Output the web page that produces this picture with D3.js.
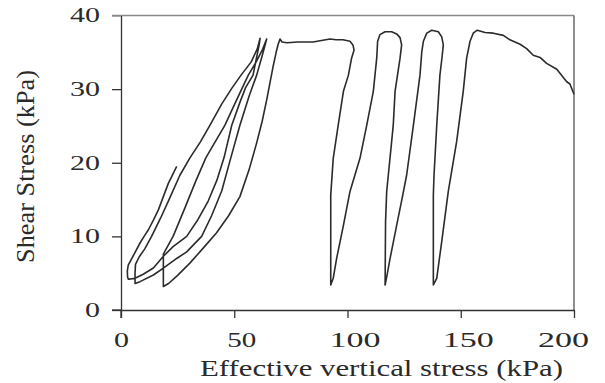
<!DOCTYPE html>
<html lang="en">
<head>
<meta charset="utf-8">
<title>Stress path</title>
<script src="https://cdn.jsdelivr.net/npm/d3@7"></script>
<style>
  body { margin: 0; background: #fff; }
  text { font-family: "Liberation Serif", "Times New Roman", serif; fill: #2a2a2a; }
</style>
</head>
<body>
<script>

var w = 605;
var h = 383;

// axis ticks
var xTicks = [0, 50, 100, 150, 200];
var yTicks = [0, 10, 20, 30, 40];

var stressX = [
  24.6, 22.8, 20.9, 18.7, 16.5, 14.3, 12.1, 10.2, 8.4, 5.8, 3.2, 2.8, 2.9, 3.2, 4.0,
  6.2, 9.8, 14.3, 18.7, 23, 29, 34, 38.5, 42.3, 45.5, 48.9, 52.5, 55, 58.3, 59.8, 61.0, 61.4,
  60.2, 57.5, 53, 48.9, 44.5, 39.3, 35, 30.5, 26, 21.5, 17.5, 13.5, 10.5, 8, 6.4, 6.2, 6.2,
  8.4, 14.3, 18.7, 24.6, 29, 35.6, 40, 44.5, 48.5, 52.5, 56.5, 59.9, 62.3, 63.8, 64.3,
  62.5, 59.5, 56.2, 51, 45.9, 41.5, 37.5, 33, 28, 23, 20.5, 18.7, 18.7, 18.7,
  21, 25, 30.5, 36, 42.2, 47.5, 52.5, 56.5, 59.9, 62.3, 64.3, 67.1, 68.5, 69.3, 70.2, 71.1,
  73.3, 78, 84.8, 88.5, 92.3, 95, 98, 101.1, 102.4, 102.9, 102.2, 101.8, 100.4, 98.2, 95.9, 93.7, 92.6, 92.6,
  93.7, 95.2, 98.2, 101.1, 105.5, 108.5, 111.4, 112.9, 113.3, 114.3, 116.6, 119.5, 121.7, 123.2, 123.9,
  123.2, 121, 120.2, 119.5, 117.3, 116.8, 116.6,
  117.2, 118.8, 121.7, 124, 126.1, 129.1, 132, 132.8, 133.5, 135, 137.2, 140.1, 141.6, 142.3,
  141.8, 140.8, 139.4, 138.2, 137.9, 137.9,
  139.4, 141.6, 144.5, 148.2, 151.1, 152.6, 154.1, 155.5, 157.3, 160.7, 164.4, 168.8, 171.7,
  176.2, 179.1, 182, 185, 187.9, 192.4, 196.8, 198.2, 200
];

// shear stress (kPa) at the same points
var shearY = [
  19.5, 18.4, 17.2, 15.4, 13.6, 12.2, 10.9, 10.0, 9.1, 7.6, 6.1, 5.3, 4.5, 4.2, 4.2,
  4.3, 4.85, 5.7, 7.3, 8.6, 10, 12.3, 14.8, 17.6, 20.7, 25.1, 28.2, 30.2, 31.9, 34.2, 36.0, 36.9,
  35.5, 33.7, 31.9, 30.1, 28, 25.1, 22.8, 20.7, 18.3, 15.2, 12.5, 10, 8.3, 7.2, 6.2, 5.0, 3.6,
  3.85, 4.75, 5.7, 7, 7.9, 10, 12.8, 16.2, 20.7, 25.1, 29, 31.9, 34.5, 36.2, 36.8,
  35.4, 33.6, 31.9, 28.5, 25.1, 22.8, 20.7, 17.5, 13.7, 10, 8.6, 7.6, 5.5, 3.2,
  3.6, 4.7, 6.4, 8.3, 10.5, 12.8, 15.4, 19, 22.7, 25.6, 28.5, 33, 35, 36, 36.8, 36.4,
  36.3, 36.4, 36.4, 36.6, 36.8, 36.7, 36.7, 36.5, 36, 35.3, 34.6, 34.2, 31.9, 29.7, 25.1, 20.6, 15.6, 3.4,
  4.3, 7, 11.5, 16.1, 20.6, 25.1, 29.7, 34.2, 36.5, 37.4, 37.8, 37.8, 37.5, 37, 36,
  34.2, 29.7, 25.1, 22.9, 16.1, 12, 3.4,
  4.3, 7, 11.5, 15, 18.3, 25.1, 31.9, 35.1, 36.5, 37.6, 38, 37.8, 37.1, 36,
  34.5, 31.9, 25.1, 18.3, 15.6, 3.4,
  4.3, 9.3, 16.1, 22.9, 29.7, 34.2, 36.5, 37.6, 38, 37.7, 37.6, 37.3, 36.7,
  36.1, 35.5, 34.6, 34.3, 33.5, 32.7, 31, 30.7, 29.3
];

var xTitle = "Effective vertical stress (kPa)";
var yTitle = "Shear Stress (kPa)";

var svg = d3.select("body").append("svg").attr("width", w).attr("height", h);

var x = d3.scaleLinear().domain([0, 200]).range([121, 574]);
var y = d3.scaleLinear().domain([0, 40]).range([310, 15.5]);

// top and right frame lines
svg.append("line")
  .attr("x1", x(0) - 9).attr("x2", x(200))
  .attr("y1", y(40)).attr("y2", y(40))
  .attr("stroke", "#8a8a8a").attr("stroke-width", 1.3);
svg.append("line")
  .attr("x1", x(200)).attr("x2", x(200))
  .attr("y1", y(40)).attr("y2", y(0))
  .attr("stroke", "#444").attr("stroke-width", 1.2);

// y axis
var gy = svg.append("g")
  .attr("transform", "translate(" + x(0) + ",0)")
  .call(d3.axisLeft(y).tickValues(yTicks).tickSize(9).tickSizeOuter(0).tickPadding(12));
gy.select(".domain").attr("stroke", "#333").attr("stroke-width", 1.3);
gy.selectAll(".tick line").attr("stroke", function(d){ return d == 40 ? "#8a8a8a" : "#333"; })
  .attr("stroke-width", 1.3);
gy.selectAll(".tick text")
  .style("font-size", "20px")
  .attr("fill", null)
  .attr("textLength", function(d){ return String(d).length * 15; })
  .attr("lengthAdjust", "spacingAndGlyphs");

// x axis
var gx = svg.append("g")
  .attr("transform", "translate(0," + y(0) + ")")
  .call(d3.axisBottom(x).tickValues(xTicks).tickSize(8).tickSizeOuter(0));
gx.select(".domain").attr("stroke", "#333").attr("stroke-width", 1.3);
gx.selectAll(".tick line").attr("stroke", "#333").attr("stroke-width", 1.3);
gx.selectAll(".tick text")
  .style("font-size", "22px")
  .attr("fill", null)
  .attr("y", 36.7).attr("dy", null)
  .attr("dx", function(d){ return d == 0 ? 0 : (d == 200 ? -11 : 7); })
  .attr("textLength", function(d){ var n = String(d).length; return n == 1 ? 15 : (n == 2 ? 29 : 51); })
  .attr("lengthAdjust", "spacingAndGlyphs");

// left axis runs down past the x axis to the 0 tick
svg.append("line")
  .attr("x1", x(0)).attr("x2", x(0))
  .attr("y1", y(0)).attr("y2", y(0) + 8)
  .attr("stroke", "#333").attr("stroke-width", 1.3);
svg.append("line")
  .attr("x1", x(0) - 9).attr("x2", x(0))
  .attr("y1", y(0)).attr("y2", y(0))
  .attr("stroke", "#333").attr("stroke-width", 1.3);

// titles
svg.append("text")
  .attr("x", 381.5).attr("y", 376)
  .attr("text-anchor", "middle")
  .style("font-size", "22.5px")
  .attr("textLength", 363).attr("lengthAdjust", "spacingAndGlyphs")
  .text(xTitle);

svg.append("text")
  .attr("transform", "translate(34,166.5) rotate(-90)")
  .attr("text-anchor", "middle")
  .style("font-size", "26px")
  .attr("textLength", 193).attr("lengthAdjust", "spacingAndGlyphs")
  .text(yTitle);

// stress path
var pts = stressX.map(function(d, i){ return [d, shearY[i]]; });
var line = d3.line()
  .x(function(d){ return x(d[0]); })
  .y(function(d){ return y(d[1]); });

svg.append("path")
  .datum(pts)
  .attr("d", line)
  .attr("fill", "none")
  .attr("stroke", "#2b2b2b")
  .attr("stroke-width", 1.6)
  .attr("stroke-linejoin", "round");

</script>
</body>
</html>
